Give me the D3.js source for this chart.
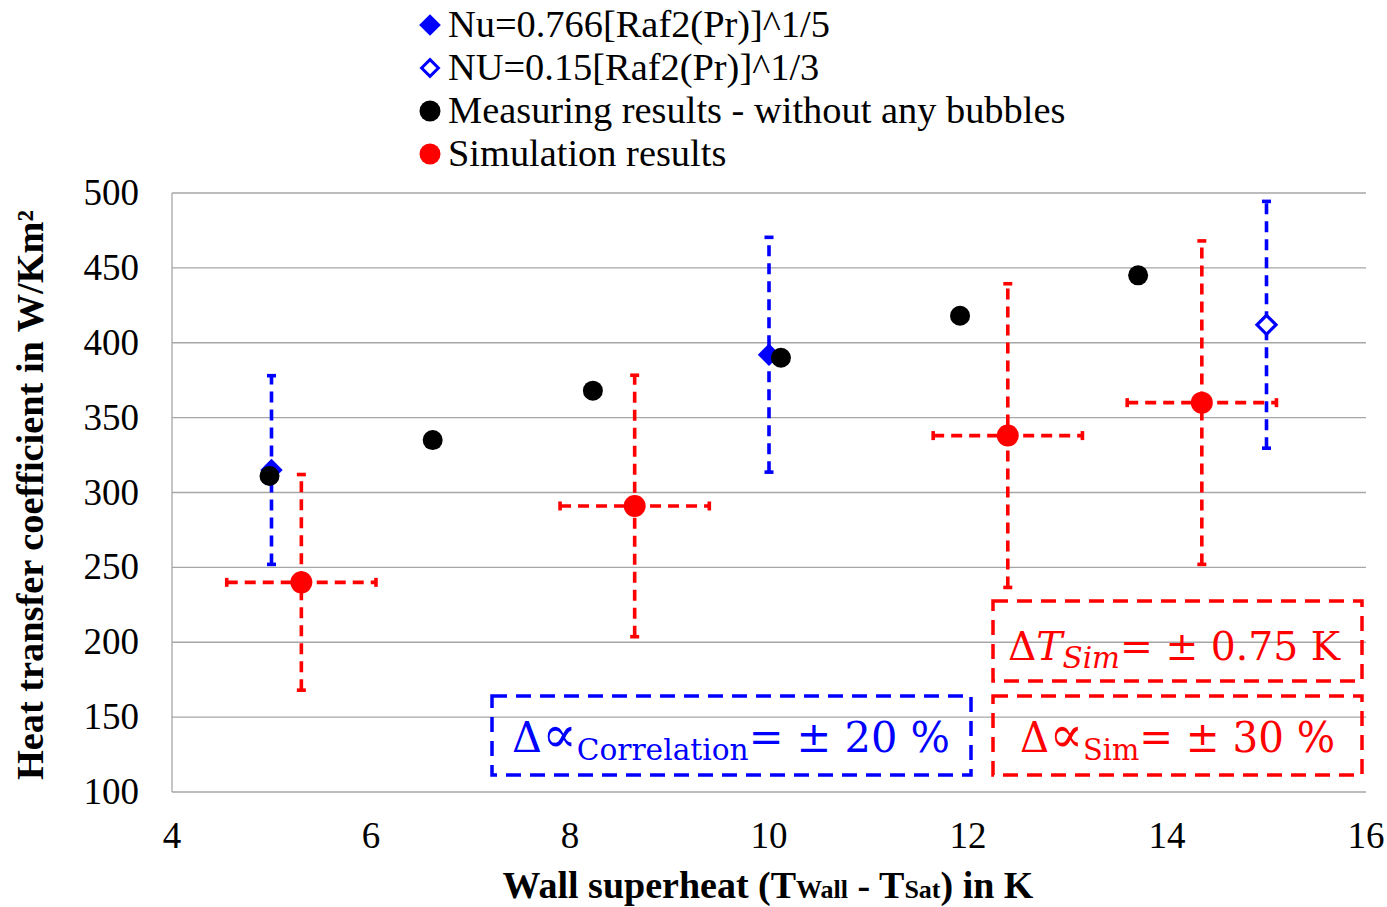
<!DOCTYPE html>
<html>
<head>
<meta charset="utf-8">
<script src="https://cdn.jsdelivr.net/npm/d3@7"></script>
<style>
  body { margin: 0; background: #fff; }
  svg { display: block; font-family: "Liberation Serif", "Times New Roman", serif; }
</style>
</head>
<body>
<svg id="chart" width="1387" height="907"></svg>
<script>
// data
var nuX = [5, 10];                 // Nu=0.766[Raf2(Pr)]^1/5
var nuY = [315, 392];
var nu2X = [15];                   // NU=0.15[Raf2(Pr)]^1/3
var nu2Y = [412];
var measX = [4.98, 6.62, 8.23, 10.12, 11.92, 13.71];   // measuring results
var measY = [311, 335, 368, 390, 418, 445];
var simX = [5.3, 8.65, 12.4, 14.35];                   // simulation results
var simY = [240, 291, 338, 360];
var corrErr = 0.20;   // +-20 %
var simErrY = 0.30;   // +-30 %
var simErrX = 0.75;   // +-0.75 K
var xTicks = [4, 6, 8, 10, 12, 14, 16];
var yTicks = [100, 150, 200, 250, 300, 350, 400, 450, 500];
var legendLabels = ['Nu=0.766[Raf2(Pr)]^1/5', 'NU=0.15[Raf2(Pr)]^1/3',
                    'Measuring results - without any bubbles', 'Simulation results'];

var BLUE = '#0000ff', RED = '#ff0000';

var svg = d3.select('#chart');

var x = d3.scaleLinear().domain([4, 16]).range([172, 1366]);
var y = d3.scaleLinear().domain([100, 500]).range([792, 193]);

// grid lines
svg.append('g').selectAll('line')
  .data(yTicks)
  .enter().append('line')
  .attr('x1', x(4)).attr('x2', x(16))
  .attr('y1', function (d) { return y(d); })
  .attr('y2', function (d) { return y(d); })
  .attr('stroke', '#a6a6a6').attr('stroke-width', 1.3);

// left axis line
svg.append('line')
  .attr('x1', x(4)).attr('x2', x(4))
  .attr('y1', y(100)).attr('y2', y(500))
  .attr('stroke', '#a6a6a6').attr('stroke-width', 1.3);

// tick labels
svg.append('g').selectAll('text')
  .data(yTicks)
  .enter().append('text')
  .attr('x', 139)
  .attr('y', function (d) { return y(d) + 12; })
  .attr('text-anchor', 'end')
  .attr('font-size', 37)
  .text(function (d) { return d; });

svg.append('g').selectAll('text')
  .data(xTicks)
  .enter().append('text')
  .attr('x', function (d) { return x(d); })
  .attr('y', 848)
  .attr('text-anchor', 'middle')
  .attr('font-size', 37)
  .text(function (d) { return d; });

// axis titles
svg.append('text')
  .attr('transform', 'translate(43,495) rotate(-90)')
  .attr('text-anchor', 'middle')
  .attr('font-size', 37)
  .attr('font-weight', 'bold')
  .attr('textLength', 570)
  .attr('lengthAdjust', 'spacingAndGlyphs')
  .text('Heat transfer coefficient in W/Km²');

var xt = svg.append('text')
  .attr('x', 768).attr('y', 898)
  .attr('text-anchor', 'middle')
  .attr('font-size', 38)
  .attr('font-weight', 'bold');
xt.append('tspan').text('Wall superheat (T');
xt.append('tspan').attr('font-size', 26).text('Wall');
xt.append('tspan').text(' - T');
xt.append('tspan').attr('font-size', 26).text('Sat');
xt.append('tspan').text(') in K');

// error bars helper
function vErr(g, cx, lo, hi, color) {
  g.append('line')
    .attr('x1', x(cx)).attr('x2', x(cx))
    .attr('y1', y(lo)).attr('y2', y(hi))
    .attr('stroke', color).attr('stroke-width', 3.6)
    .attr('stroke-dasharray', '11,7');
  [lo, hi].forEach(function (v) {
    g.append('line')
      .attr('x1', x(cx) - 4.5).attr('x2', x(cx) + 4.5)
      .attr('y1', y(v)).attr('y2', y(v))
      .attr('stroke', color).attr('stroke-width', 3.6);
  });
}
function hErr(g, cy, lo, hi, color) {
  g.append('line')
    .attr('x1', x(lo)).attr('x2', x(hi))
    .attr('y1', y(cy)).attr('y2', y(cy))
    .attr('stroke', color).attr('stroke-width', 3.6)
    .attr('stroke-dasharray', '11,7');
  [lo, hi].forEach(function (v) {
    g.append('line')
      .attr('x1', x(v)).attr('x2', x(v))
      .attr('y1', y(cy) - 4.5).attr('y2', y(cy) + 4.5)
      .attr('stroke', color).attr('stroke-width', 3.6);
  });
}

var diamond = d3.symbol().type(d3.symbolDiamond2);

// correlation 1 (filled diamonds)
var g1 = svg.append('g');
nuX.forEach(function (d, i) { vErr(g1, d, nuY[i] * (1 - corrErr), nuY[i] * (1 + corrErr), BLUE); });
g1.selectAll('path.m')
  .data(nuX)
  .enter().append('path')
  .attr('class', 'm')
  .attr('d', diamond.size(320))
  .attr('transform', function (d, i) { return 'translate(' + x(d) + ',' + y(nuY[i]) + ')'; })
  .attr('fill', BLUE);

// correlation 2 (hollow diamonds)
var g2 = svg.append('g');
nu2X.forEach(function (d, i) { vErr(g2, d, nu2Y[i] * (1 - corrErr), nu2Y[i] * (1 + corrErr), BLUE); });
g2.selectAll('path.m')
  .data(nu2X)
  .enter().append('path')
  .attr('class', 'm')
  .attr('d', diamond.size(230))
  .attr('transform', function (d, i) { return 'translate(' + x(d) + ',' + y(nu2Y[i]) + ')'; })
  .attr('fill', '#fff').attr('stroke', BLUE).attr('stroke-width', 3.2);

// measuring results
svg.append('g').selectAll('circle')
  .data(measX)
  .enter().append('circle')
  .attr('cx', function (d) { return x(d); })
  .attr('cy', function (d, i) { return y(measY[i]); })
  .attr('r', 10)
  .attr('fill', '#000');

// simulation results
var g4 = svg.append('g');
simX.forEach(function (d, i) {
  vErr(g4, d, simY[i] * (1 - simErrY), simY[i] * (1 + simErrY), RED);
  hErr(g4, simY[i], d - simErrX, d + simErrX, RED);
});
g4.selectAll('circle')
  .data(simX)
  .enter().append('circle')
  .attr('cx', function (d) { return x(d); })
  .attr('cy', function (d, i) { return y(simY[i]); })
  .attr('r', 11)
  .attr('fill', RED);

// legend
var legend = svg.append('g').attr('transform', 'translate(430,25)');
legendLabels.forEach(function (lab, i) {
  var row = legend.append('g').attr('transform', 'translate(0,' + (i * 43) + ')');
  if (i === 0) {
    row.append('path').attr('d', diamond.size(300)).attr('fill', BLUE);
  } else if (i === 1) {
    row.append('path').attr('d', diamond.size(180)).attr('fill', '#fff')
      .attr('stroke', BLUE).attr('stroke-width', 3);
  } else {
    row.append('circle').attr('r', 10.5).attr('fill', i === 2 ? '#000' : RED);
  }
  row.append('text')
    .attr('x', 18).attr('y', 12)
    .attr('font-size', 38.4)
    .text(lab);
});

// annotation boxes
function box(x0, y0, w, h, color) {
  svg.append('rect')
    .attr('x', x0).attr('y', y0).attr('width', w).attr('height', h)
    .attr('fill', 'none').attr('stroke', color).attr('stroke-width', 3.5)
    .attr('stroke-dasharray', '15,9');
}
box(993, 601, 369, 80, RED);
box(993, 696, 369, 79, RED);
box(492, 696, 479, 79, BLUE);

var mathFont = '"DejaVu Serif", "Liberation Serif", serif';

var t1 = svg.append('text').attr('x', 1008).attr('y', 660)
  .attr('font-size', 40).attr('fill', RED).attr('font-family', mathFont)
  .attr('textLength', 332).attr('lengthAdjust', 'spacingAndGlyphs');
t1.append('tspan').text('Δ');
t1.append('tspan').attr('font-style', 'italic').text('T');
t1.append('tspan').attr('font-style', 'italic').attr('font-size', 30).attr('dy', 8).text('Sim');
t1.append('tspan').attr('dy', -8).text('= ± 0.75 K');

var t2 = svg.append('text').attr('x', 1020).attr('y', 752)
  .attr('font-size', 42).attr('fill', RED).attr('font-family', mathFont)
  .attr('textLength', 315).attr('lengthAdjust', 'spacingAndGlyphs');
t2.append('tspan').text('Δ');
t2.append('tspan').attr('font-size', 52).text('∝');
t2.append('tspan').attr('font-size', 30).attr('dy', 8).text('Sim');
t2.append('tspan').attr('dy', -8).text('= ± 30 %');

var t3 = svg.append('text').attr('x', 512).attr('y', 752)
  .attr('font-size', 42).attr('fill', BLUE).attr('font-family', mathFont)
  .attr('textLength', 438).attr('lengthAdjust', 'spacingAndGlyphs');
t3.append('tspan').text('Δ');
t3.append('tspan').attr('font-size', 52).text('∝');
t3.append('tspan').attr('font-size', 30).attr('dy', 8).text('Correlation');
t3.append('tspan').attr('dy', -8).text('= ± 20 %');
</script>
</body>
</html>
